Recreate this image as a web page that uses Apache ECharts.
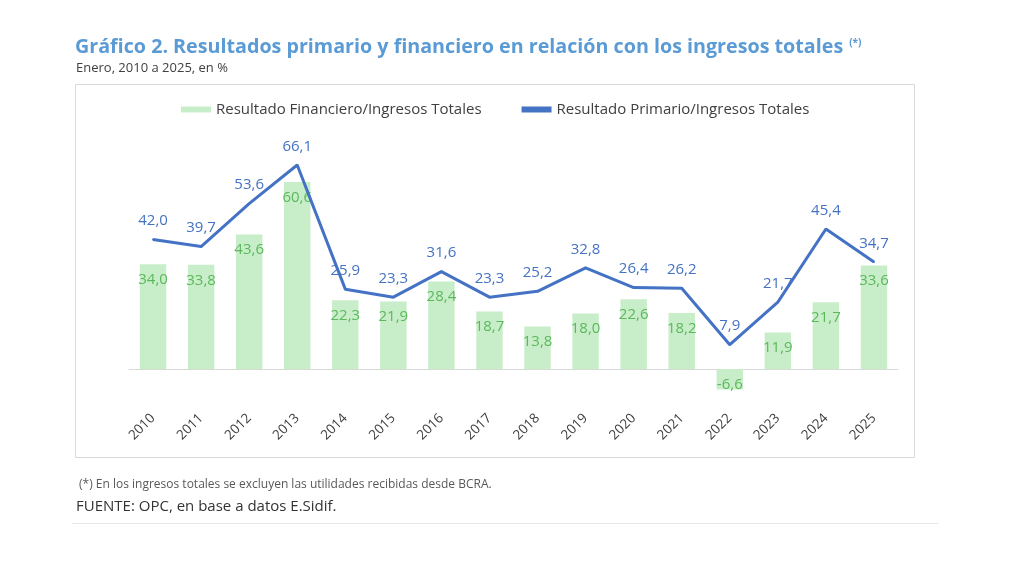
<!DOCTYPE html>
<html><head><meta charset="utf-8">
<script src="https://cdn.jsdelivr.net/npm/echarts@6/dist/echarts.min.js"></script>
<style>html,body{margin:0;padding:0;background:#fff}#c{width:1024px;height:576px}</style>
</head><body><div id="c"></div>
<script>
const categories = ['2010','2011','2012','2013','2014','2015','2016','2017','2018','2019','2020','2021','2022','2023','2024','2025'];
const financiero = [34.0,33.8,43.6,60.6,22.3,21.9,28.4,18.7,13.8,18.0,22.6,18.2,-6.6,11.9,21.7,33.6];
const primario = [42.0,39.7,53.6,66.1,25.9,23.3,31.6,23.3,25.2,32.8,26.4,26.2,7.9,21.7,45.4,34.7];
const seriesNames = ['Resultado Financiero/Ingresos Totales','Resultado Primario/Ingresos Totales'];
const titleText = 'Gráfico 2. Resultados primario y financiero en relación con los ingresos totales';

const fmt = v => v.toFixed(1).replace('.', ',');
const F = '"Open Sans", "Noto Sans", sans-serif';
const titleFont = 'bold 19.7px ' + F;
const mctx = document.createElement('canvas').getContext('2d');
mctx.font = titleFont;
const titleW = mctx.measureText(titleText).width;

const chart = echarts.init(document.getElementById('c'));
chart.setOption({
  animation: false,
  textStyle: {fontFamily: F},
  graphic: [
    {type:'rect', shape:{x:75.5,y:84.5,width:839,height:373}, style:{fill:'none', stroke:'#d9d9d9', lineWidth:1}, z:-1},
    {type:'text', left:75, top:37, style:{text:titleText, fill:'#5b9bd5', font:titleFont}},
    {type:'text', left:75 + titleW + 6, top:38, style:{text:'(*)', fill:'#5b9bd5', font:'bold 10px '+F}},
    {type:'text', left:76, top:62, style:{text:'Enero, 2010 a 2025, en %', fill:'#404040', font:'13px '+F}},
    {type:'text', left:79, top:479, style:{text:'(*) En los ingresos totales se excluyen las utilidades recibidas desde BCRA.', fill:'#595959', font:'12px '+F}},
    {type:'text', left:76, top:499, style:{text:'FUENTE: OPC, en base a datos E.Sidif.', fill:'#333', font:'15px '+F}},
    {type:'line', shape:{x1:72,y1:523.5,x2:938,y2:523.5}, style:{stroke:'#e6e6e6', lineWidth:1}}
  ],
  legend: {
    top: 97, left: 176, itemGap: 40, itemWidth: 30, itemHeight: 6,
    textStyle: {color:'#404040', fontSize: 15, fontFamily: F},
    data: [
      {name: seriesNames[0], icon: 'rect'},
      {name: seriesNames[1], icon: 'rect', itemStyle:{color:'#4472c4'}}
    ]
  },
  grid: {left: 129, right: 126, top: 153, bottom: 176},
  xAxis: {
    type: 'category', data: categories,
    axisLine: {show:true, onZero:true, lineStyle:{color:'#d9d9d9', width:1}},
    axisTick: {show:false},
    axisLabel: {rotate: 45, color:'#404040', fontSize: 13.5, fontFamily: F, margin: 16}
  },
  yAxis: {
    type: 'value', min: -10, max: 70, interval: 10,
    show: false, splitLine: {show:false}
  },
  series: [
    {
      name: seriesNames[0], type: 'bar', data: financiero, barWidth: '55%',
      itemStyle: {color: '#c8edc9'},
      label: {show: true, position: 'insideTop', distance: 8, color: '#5cb85c', fontSize: 15, fontFamily: F, formatter: p => fmt(p.value)}
    },
    {
      name: seriesNames[1], type: 'line', data: primario, symbol: 'circle', symbolSize: 2, showSymbol: true,
      lineStyle: {color: '#4472c4', width: 3}, itemStyle: {color:'#4472c4'},
      label: {show: true, position: 'top', distance: 10, color: '#4472c4', fontSize: 15, fontFamily: F, formatter: p => fmt(p.value)}
    }
  ]
});
</script></body></html>
